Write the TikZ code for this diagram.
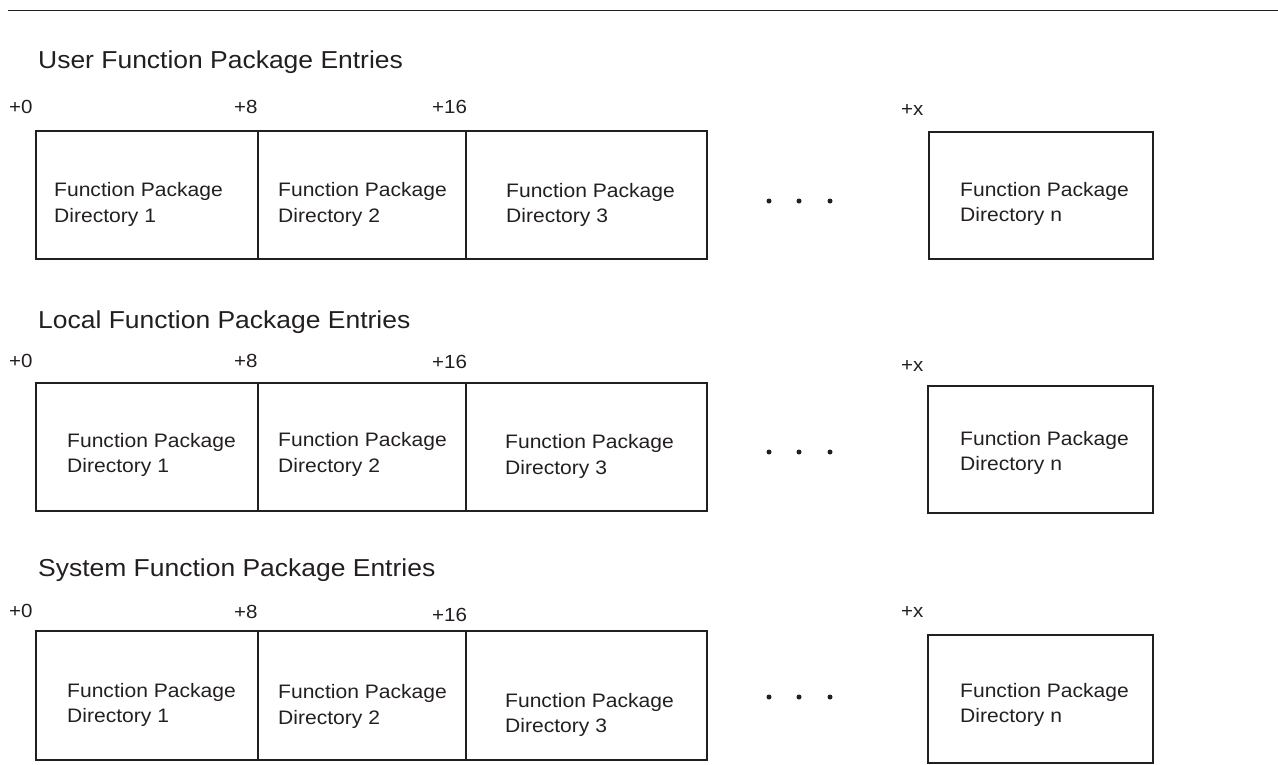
\documentclass[tikz,border=0pt]{standalone}
\usepackage{fontspec}
\setmainfont{Liberation Sans}[FakeStretch=1.08]
\definecolor{ink}{HTML}{231F20}
\newcommand\fptext[4]{%
  \node[txt] (#1a) at (#2,#3) {Function Package};
  \node[txt] (#1b) at (#2,#3+25.5) {Directory #4};}
\begin{document}
\begin{tikzpicture}[x=1pt,y=-1pt,
  cell/.style={draw=ink, line width=1.2pt, inner sep=0pt, outer sep=0pt, anchor=north west},
  ttl/.style={anchor=base west, inner sep=0pt, font=\fontsize{24.5}{28}\selectfont, text=ink},
  lbl/.style={anchor=base west, inner sep=0pt, font=\fontsize{19}{22}\selectfont, text=ink},
  txt/.style={anchor=base west, inner sep=0pt, font=\fontsize{19.5}{23}\selectfont, text=ink},
  dotc/.style={circle, fill=ink, inner sep=0pt, minimum size=5pt}]
\useasboundingbox (0,0) rectangle (1278,764);

% top rule
\coordinate (tl) at (8,10.5);
\coordinate (tr) at (1278,10.5);
\draw[ink, line width=1.5pt] (tl) -- (tr);

% ---------------- Row 1 ----------------
\node[ttl] (t1) at (38,68) {User Function Package Entries};
\node[lbl] (u0) at (9,113) {+0};
\node[lbl] (u8) at (234,113) {+8};
\node[lbl] (u16) at (432,113) {+16};
\node[lbl] (ux) at (901,115) {+x};
\node[cell, minimum width=222pt, minimum height=128pt] (ub1) at (36,131) {};
\node[cell, minimum width=208pt, minimum height=128pt] (ub2) at (258,131) {};
\node[cell, minimum width=241pt, minimum height=128pt] (ub3) at (466,131) {};
\node[cell, minimum width=224pt, minimum height=127pt] (ubn) at (929,132) {};
\fptext{ua}{54}{196.5}{1}
\fptext{ub}{278}{196.5}{2}
\fptext{uc}{506}{197}{3}
\fptext{un}{960}{196}{n}
\node[dotc] (ud1) at (769,201) {};
\node[dotc] (ud2) at (799,201) {};
\node[dotc] (ud3) at (830,201) {};

% ---------------- Row 2 ----------------
\node[ttl] (t2) at (38,328) {Local Function Package Entries};
\node[lbl] (l0) at (9,367) {+0};
\node[lbl] (l8) at (234,367) {+8};
\node[lbl] (l16) at (432,368) {+16};
\node[lbl] (lx) at (901,371) {+x};
\node[cell, minimum width=222pt, minimum height=128pt] (lb1) at (36,383) {};
\node[cell, minimum width=208pt, minimum height=128pt] (lb2) at (258,383) {};
\node[cell, minimum width=241pt, minimum height=128pt] (lb3) at (466,383) {};
\node[cell, minimum width=225pt, minimum height=127pt] (lbn) at (928,386) {};
\fptext{la}{67}{447}{1}
\fptext{lb}{278}{446.5}{2}
\fptext{lc}{505}{448.5}{3}
\fptext{ln}{960}{445}{n}
\node[dotc] (ld1) at (769,452) {};
\node[dotc] (ld2) at (799,452) {};
\node[dotc] (ld3) at (830,452) {};

% ---------------- Row 3 ----------------
\node[ttl] (t3) at (38,576) {System Function Package Entries};
\node[lbl] (s0) at (9,617) {+0};
\node[lbl] (s8) at (234,618) {+8};
\node[lbl] (s16) at (432,621.5) {+16};
\node[lbl] (sx) at (901,617) {+x};
\node[cell, minimum width=222pt, minimum height=129pt] (sb1) at (36,631) {};
\node[cell, minimum width=208pt, minimum height=129pt] (sb2) at (258,631) {};
\node[cell, minimum width=241pt, minimum height=129pt] (sb3) at (466,631) {};
\node[cell, minimum width=225pt, minimum height=128pt] (sbn) at (928,635) {};
\fptext{sa}{67}{697}{1}
\fptext{sb}{278}{698.5}{2}
\fptext{sc}{505}{707}{3}
\fptext{sn}{960}{697}{n}
\node[dotc] (sd1) at (769,697) {};
\node[dotc] (sd2) at (799,697) {};
\node[dotc] (sd3) at (830,697) {};
\end{tikzpicture}
\end{document}
